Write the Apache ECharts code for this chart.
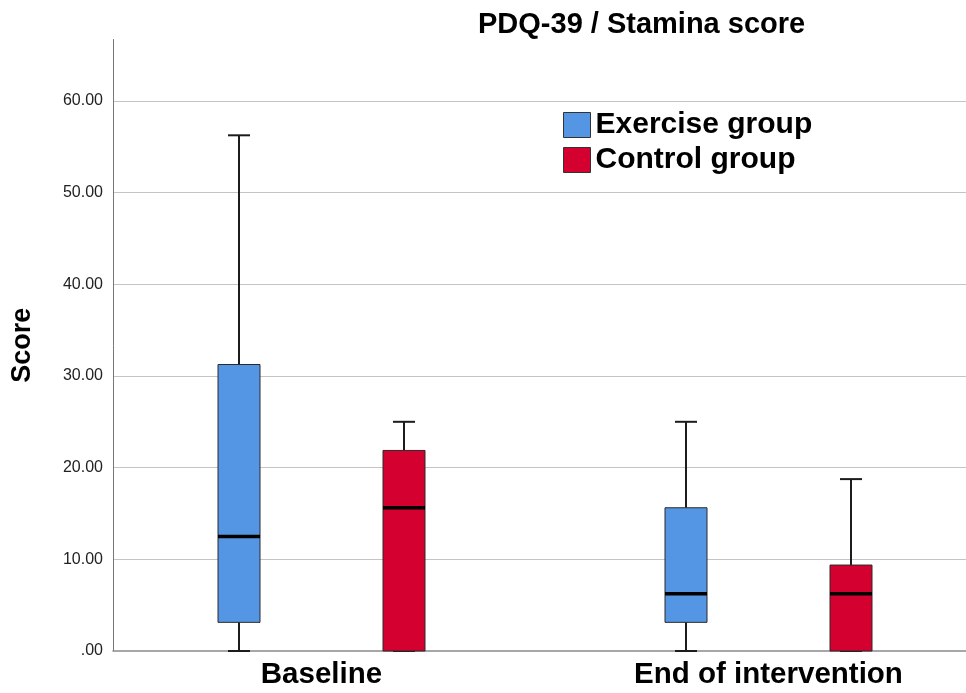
<!DOCTYPE html>
<html>
<head>
<meta charset="utf-8">
<script src="https://cdn.jsdelivr.net/npm/echarts@6/dist/echarts.min.js"></script>
<style>
  html, body { margin: 0; padding: 0; background: #ffffff; }
  #chart { width: 966px; height: 693px; }
</style>
</head>
<body>
<div id="chart"></div>
<script>
// ---- Data ----
const categories = ['Baseline', 'End of intervention'];
const groupNames = ['Exercise group', 'Control group'];
// [min, Q1, median, Q3, max] per category
const exerciseStats = [
  [0, 3.125, 12.5, 31.25, 56.25],
  [0, 3.125, 6.25, 15.625, 25]
];
const controlStats = [
  [0, 0, 15.625, 21.875, 25],
  [0, 0, 6.25, 9.375, 18.75]
];
const yTickStep = 10;

// ---- Styling / layout ----
const FONT = '"Liberation Sans", Arial, Helvetica, sans-serif';
const groupColors = ['#5496e3', '#d4002f'];
const groupShiftPx = [-82.5, 82.5];
const BOX_HALF = 21;
const CAP_HALF = 11;

function toSeriesData(stats) {
  return stats.map((s, i) => [i].concat(s));
}

function makeRender(shiftPx) {
  return function (params, api) {
    const x = api.value(0);
    const pts = [1, 2, 3, 4, 5].map(function (d) { return api.coord([x, api.value(d)]); });
    const cx = Math.round(pts[0][0] + shiftPx);
    const yMin = pts[0][1], yQ1 = pts[1][1], yMed = pts[2][1], yQ3 = pts[3][1], yMax = pts[4][1];
    const color = api.visual('color');
    const wStyle = { stroke: '#1c1c1c', lineWidth: 2 };
    return {
      type: 'group',
      children: [
        { type: 'line', shape: { x1: cx, y1: yQ3, x2: cx, y2: yMax }, style: wStyle },
        { type: 'line', shape: { x1: cx, y1: yMin, x2: cx, y2: yQ1 }, style: wStyle },
        { type: 'line', shape: { x1: cx - CAP_HALF, y1: yMax, x2: cx + CAP_HALF, y2: yMax }, style: wStyle },
        { type: 'line', shape: { x1: cx - CAP_HALF, y1: yMin, x2: cx + CAP_HALF, y2: yMin }, style: wStyle },
        { type: 'rect', shape: { x: cx - BOX_HALF, y: yQ3, width: BOX_HALF * 2, height: yQ1 - yQ3 },
          style: { fill: color, stroke: '#2a2a2a', lineWidth: 1 } },
        { type: 'line', shape: { x1: cx - BOX_HALF, y1: yMed, x2: cx + BOX_HALF, y2: yMed },
          style: { stroke: '#000000', lineWidth: 3.5 } }
      ]
    };
  };
}

const chart = echarts.init(document.getElementById('chart'), null, { renderer: 'canvas' });

const option = {
  backgroundColor: '#ffffff',
  animation: false,
  title: {
    text: 'PDQ-39 / Stamina score',
    left: 478,
    top: 10,
    padding: 0,
    textStyle: { fontFamily: FONT, fontSize: 29, fontWeight: 'bold', color: '#000' }
  },
  legend: {
    orient: 'vertical',
    left: 563,
    top: 110,
    padding: 0,
    itemWidth: 27,
    itemHeight: 25,
    itemGap: 5,
    selectedMode: false,
    textStyle: { fontFamily: FONT, fontSize: 30, fontWeight: 'bold', color: '#000' },
    data: groupNames.map(function (n, i) {
      return { name: n, icon: 'rect', itemStyle: { color: groupColors[i], borderColor: '#333', borderWidth: 1 } };
    })
  },
  grid: { left: 113, right: 0, top: 39.5, bottom: 42, containLabel: false },
  xAxis: {
    type: 'value',
    min: -0.4664,
    max: 1.4418,
    axisLine: { show: true, onZero: false, lineStyle: { color: '#8a8a8a', width: 1.5 } },
    axisTick: { show: false },
    splitLine: { show: false },
    axisLabel: {
      customValues: categories.map(function (c, i) { return i; }),
      formatter: function (v) { return categories[Math.round(v)]; },
      fontFamily: FONT, fontSize: 29.5, fontWeight: 'bold', color: '#000',
      margin: 9
    }
  },
  yAxis: {
    type: 'value',
    min: 0,
    max: 66.7,
    interval: yTickStep,
    name: 'Score',
    nameLocation: 'middle',
    nameGap: 77,
    nameRotate: 90,
    nameTextStyle: { fontFamily: FONT, fontSize: 27, fontWeight: 'bold', color: '#000' },
    axisLine: { show: true, onZero: false, lineStyle: { color: '#777', width: 1 } },
    axisTick: { show: false },
    axisLabel: {
      showMaxLabel: false,
      fontFamily: FONT, fontSize: 16, color: '#222', margin: 10,
      formatter: function (v) { return v === 0 ? '.00' : v.toFixed(2); }
    },
    splitLine: { show: true, showMinLine: false, showMaxLine: false, lineStyle: { color: '#c4c4c4', width: 1.2 } }
  },
  series: [
    {
      name: groupNames[0],
      type: 'custom',
      renderItem: makeRender(groupShiftPx[0]),
      itemStyle: { color: groupColors[0] },
      encode: { x: 0, y: [1, 2, 3, 4, 5] },
      data: toSeriesData(exerciseStats),
      z: 3
    },
    {
      name: groupNames[1],
      type: 'custom',
      renderItem: makeRender(groupShiftPx[1]),
      itemStyle: { color: groupColors[1] },
      encode: { x: 0, y: [1, 2, 3, 4, 5] },
      data: toSeriesData(controlStats),
      z: 3
    }
  ]
};

chart.setOption(option);
</script>
</body>
</html>
